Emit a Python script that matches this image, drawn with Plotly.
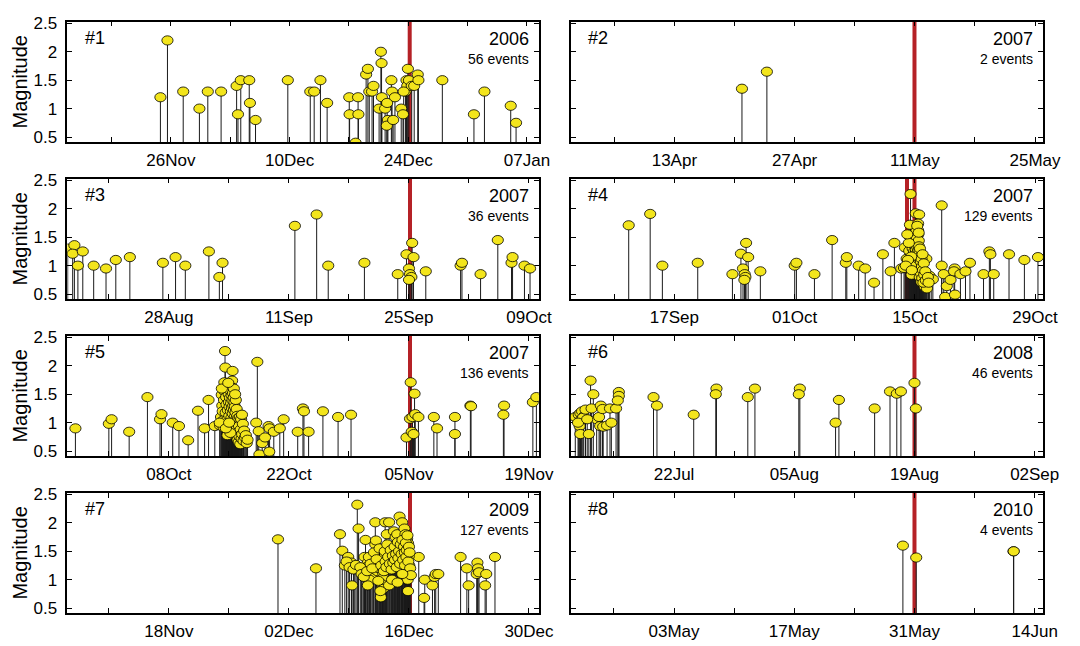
import pandas as pd
import plotly.graph_objects as go

# ---------------------------------------------------------------------------
# Earthquake sequences: event times are given in days relative to each
# sequence origin, magnitudes in the matching list.
# ---------------------------------------------------------------------------
seq_labels = ["#1", "#2", "#3", "#4", "#5", "#6", "#7", "#8"]
seq_years = ["2006", "2007", "2007", "2007", "2007", "2008", "2009", "2010"]
seq_origins = ["2006-12-24 00:00", "2007-05-11 00:00", "2007-09-25 03:00", "2007-10-15 00:00",
               "2007-11-05 03:00", "2008-08-19 00:00", "2009-12-16 03:00", "2010-05-31 00:00"]
# mainshock times (days from origin), drawn as red vertical lines
mainshock_days = [[0.17], [-0.04], [0.0], [-0.91, -0.04], [0.0], [0.0], [0.0], [0.0]]
# labelled date ticks of every panel
tick_dates = [
    ["2006-11-26", "2006-12-10", "2006-12-24", "2007-01-07"],
    ["2007-04-13", "2007-04-27", "2007-05-11", "2007-05-25"],
    ["2007-08-28", "2007-09-11", "2007-09-25", "2007-10-09"],
    ["2007-09-17", "2007-10-01", "2007-10-15", "2007-10-29"],
    ["2007-10-08", "2007-10-22", "2007-11-05", "2007-11-19"],
    ["2008-07-22", "2008-08-05", "2008-08-19", "2008-09-02"],
    ["2009-11-18", "2009-12-02", "2009-12-16", "2009-12-30"],
    ["2010-05-03", "2010-05-17", "2010-05-31", "2010-06-14"],
]

days_1 = [-29.24, -28.41, -26.55, -24.64, -23.65, -22.08, -20.25, -20.09, -19.76, -18.76,
          -18.68, -18.02, -14.21, -11.56, -11.10, -10.36, -9.57, -6.96, -6.92, -6.21,
          -5.92, -5.88, -4.97, -4.76, -4.60, -4.27, -4.10, -3.23, -3.15, -3.11,
          -3.44, -2.73, -2.49, -2.40, -2.53, -1.99, -1.91, -1.57, -1.78, -0.83,
          -0.62, -0.33, -0.21, -0.04, -0.12, 0.08, 0.41, 0.70, 1.12, 1.20,
          4.02, 7.75, 8.99, 12.09, 12.72, -0.54]
mag_1 = [1.2, 2.2, 1.3, 1.0, 1.3, 1.3, 1.4, 0.9, 1.5, 1.5,
         1.1, 0.8, 1.5, 1.3, 1.3, 1.5, 1.1, 1.2, 0.9, 0.4,
         1.2, 0.9, 1.6, 1.7, 1.3, 1.3, 1.4, 2.0, 1.8, 1.2,
         1.0, 1.0, 1.1, 0.8, 0.7, 1.5, 1.3, 1.2, 0.8, 1.0,
         0.9, 1.3, 1.5, 1.7, 1.4, 1.5, 1.4, 1.4, 1.6, 1.5,
         1.5, 0.9, 1.3, 1.05, 0.75, 1.3]

days_2 = [-20.13, -17.23]
mag_2 = [1.35, 1.65]

days_3 = [-39.93, -39.15, -39.35, -38.74, -38.17, -36.90, -35.46, -34.32, -32.68, -28.83,
          -27.35, -26.21, -23.46, -22.24, -21.87, -13.43, -10.89, -9.54, -5.32, -1.43,
          -0.41, -0.12, 0.00, 0.16, -0.12, 0.25, 0.41, 1.84, 5.90, 6.06,
          8.23, 10.24, 11.84, 11.96, 13.35, 14.00]
mag_3 = [1.30, 1.36, 1.21, 1.00, 1.25, 1.00, 0.95, 1.10, 1.15, 1.05,
         1.15, 1.00, 1.25, 0.80, 1.05, 1.70, 1.90, 1.00, 1.05, 0.85,
         1.20, 0.95, 0.85, 0.80, 0.75, 1.40, 1.15, 0.90, 1.00, 1.05,
         0.85, 1.45, 1.05, 1.15, 1.00, 0.95]

days_4 = [-33.32, -30.82, -29.40, -25.28, -21.24, -20.25, -19.65, -20.01, -19.81, -19.73,
          -19.85, -19.41, -17.99, -13.99, -13.79, -11.69, -9.63, -8.04, -7.92, -6.54,
          -5.78, -4.75, -3.72, -2.81, -2.38, -1.58,
          3.13, 3.13, 3.37, 3.53, 3.72, 4.16, 4.68, 4.64, 4.56, 5.31,
          5.90, 6.42, 8.00, 8.68, 8.80, 9.19, 10.97, 12.76, 14.34,
          -0.50, 0.11, 0.50, -0.57, 0.38, 0.38, 0.40, -0.65, 0.19, 0.00,
          -1.15, -0.19, -0.65, 0.19, -0.95, 1.34, 0.00, -0.57, 0.38, 0.76,
          -0.38, 0.57, 0.76, 1.15, 1.41, 1.91, 1.72, 2.10, -1.26,
          -0.30, -0.25, -0.22, -0.15, -0.12, -0.08, -0.05, 0.02, 0.05, 0.08,
          0.10, 0.13, 0.15, 0.17, 0.21, 0.23, 0.25, 0.27, 0.30, 0.32,
          0.34, 0.36, 0.42, 0.44, 0.46, 0.48, 0.52, 0.55, 0.58, 0.60,
          0.63, 0.66, 0.70, 0.73, 0.78, 0.82, 0.86, 0.90, 0.95, 1.00,
          1.05, 1.10, 1.22, 1.28, 1.52, 1.60, -0.42, -0.45, -0.70, -0.80,
          -0.88, -1.05, 0.28, 0.45, -0.35]
mag_4 = [1.71, 1.91, 1.00, 1.05, 0.85, 1.21, 1.40, 0.95, 0.85, 0.80,
         0.75, 1.15, 0.90, 1.00, 1.05, 0.85, 1.45, 1.05, 1.15, 1.00,
         0.95, 0.70, 1.20, 0.90, 1.40, 0.95,
         2.06, 1.00, 0.85, 0.45, 0.64, 0.75, 0.49, 0.95, 0.90, 0.85,
         0.90, 1.05, 0.85, 1.25, 1.20, 0.85, 1.20, 1.10, 1.15,
         2.26, 1.92, 1.90, 1.72, 1.74, 1.62, 1.55, 1.52, 1.50, 1.46,
         1.32, 1.36, 1.26, 1.24, 1.12, 1.12, 1.07, 0.96, 0.96, 0.89,
         0.84, 0.80, 0.71, 0.63, 0.60, 0.76, 0.82, 0.76, 0.96,
         1.45, 1.30, 1.18, 1.40, 1.05, 1.25, 1.52, 1.20, 1.34, 1.42,
         1.15, 1.28, 1.02, 1.60, 1.36, 1.10, 1.48, 1.22, 1.32, 0.98,
         1.40, 1.18, 1.26, 1.08, 1.44, 1.34, 1.14, 1.22, 1.02, 1.30,
         0.92, 1.16, 1.06, 0.86, 1.12, 0.98, 0.78, 1.20, 0.92, 0.70,
         1.04, 0.84, 0.90, 0.74, 0.80, 0.70, 1.16, 1.00, 1.40, 1.10,
         1.55, 1.00, 1.70, 1.58, 0.92]

days_5 = [-39.03, -35.13, -34.81, -32.76, -30.63, -29.16, -28.99, -27.68, -26.95, -25.88,
          -24.73, -23.96, -23.50, -22.77, -17.81, -17.94, -17.65, -17.57, -17.24, -16.91,
          -16.42, -16.50, -16.38, -15.89, -15.19, -14.74, -13.10, -12.49, -12.37, -11.83,
          -10.16, -8.39, -6.88, -0.41, 0.08, 0.00, 0.20, 0.41, 0.53, 0.29,
          0.61, 0.98, 2.78, 3.15, 5.24, 5.24, 7.04, 7.12, 10.97, 10.89,
          14.33, 14.74,
          -21.58, -21.54, -20.70, -21.66, -20.75, -20.80, -21.96, -21.90, -22.05, -22.15,
          -21.85, -21.80, -21.75, -21.70, -21.62, -21.50, -21.45, -21.40, -21.35, -21.30,
          -21.25, -21.20, -21.15, -21.12, -21.08, -21.05, -21.00, -20.97, -20.94, -20.90,
          -20.87, -20.84, -20.81, -20.78, -20.74, -20.71, -20.68, -20.65, -20.62, -20.60,
          -20.57, -20.54, -20.51, -20.48, -20.45, -20.42, -20.38, -20.35, -20.32, -20.28,
          -20.25, -20.22, -20.18, -20.15, -20.12, -20.08, -20.05, -20.02, -19.98, -19.95,
          -19.90, -19.85, -19.80, -19.75, -19.70, -19.65, -19.58, -19.50, -19.42, -19.35,
          -19.25, -19.15, -19.05, -18.95, -21.95, -22.20, -21.30, -20.95, -21.48, -20.55,
          -21.20, -20.40, -19.60, -21.10]
mag_5 = [0.90, 0.98, 1.06, 0.84, 1.45, 1.06, 1.15, 1.00, 0.94, 0.69,
         1.21, 0.90, 1.40, 0.94, 2.07, 1.00, 0.85, 0.44, 0.64, 0.74,
         0.49, 0.94, 0.90, 0.84, 0.90, 1.06, 0.84, 1.25, 1.20, 0.84,
         1.20, 1.10, 1.14, 0.74, 1.71, 1.07, 0.84, 0.80, 1.51, 1.10,
         1.15, 1.10, 1.10, 0.90, 1.10, 0.80, 1.30, 1.29, 1.30, 1.14,
         1.36, 1.45,
         2.26, 1.97, 1.91, 1.71, 1.74, 1.62, 1.49, 1.30, 1.10, 0.95,
         1.20, 1.04, 0.92, 1.40, 1.55, 1.18, 1.45, 1.32, 1.05, 1.62,
         1.22, 0.88, 1.50, 1.36, 1.12, 1.28, 1.44, 0.98, 1.56, 1.20,
         1.34, 1.08, 1.48, 1.26, 0.94, 1.40, 1.16, 1.52, 1.30, 1.02,
         1.44, 1.22, 0.86, 1.36, 1.10, 1.28, 0.96, 1.18, 1.40, 1.06,
         0.80, 1.24, 0.92, 1.12, 0.70, 1.02, 0.84, 1.08, 0.66, 0.94,
         0.76, 1.10, 0.62, 0.88, 1.06, 0.72, 0.80, 0.98, 0.68, 0.86,
         0.74, 0.78, 0.64, 0.70, 1.60, 1.00, 0.78, 0.82, 0.90, 1.60,
         1.70, 1.50, 1.14, 1.00]

days_6 = [-39.50, -39.10, -38.91, -38.71, -38.51, -38.79, -38.99, -38.91, -38.60, -38.31,
          -37.92, -37.72, -37.40, -37.60, -37.01, -36.73, -36.53, -36.33, -36.61, -36.25,
          -35.80, -35.30, -35.46, -34.75, -34.43, -34.43, -34.55, -30.39, -29.99, -25.71,
          -23.06, -23.14, -19.41, -18.58, -13.35, -13.47, -9.19, -8.80, -4.64, -2.85,
          -2.06, -1.58, 0.00, 0.16, -39.18, -38.11]
mag_6 = [1.10, 1.14, 1.17, 1.20, 1.11, 1.06, 0.94, 0.80, 1.09, 1.23,
         0.80, 1.74, 1.50, 1.25, 1.06, 1.10, 1.30, 1.24, 0.94, 0.93,
         0.95, 1.00, 1.25, 1.25, 1.54, 1.47, 1.39, 1.45, 1.30, 1.14,
         1.60, 1.50, 1.45, 1.60, 1.60, 1.50, 1.00, 1.40, 1.25, 1.55,
         1.51, 1.55, 1.70, 1.25, 1.00, 1.06]

days_7 = [-15.40, -10.97, 1.02, 1.72, 1.64, 2.62, 2.87, 3.00, 3.30, 5.90,
          6.63, 6.84, 7.86, 7.94, 7.78, 8.05, 8.89, 8.76, 9.91,
          -6.15, -8.17, -7.90, -6.00, -7.21, -6.83, -6.83, -6.45, -6.07, -5.50,
          -6.76, -5.19, -5.31, -4.92, -5.11, -4.54, -4.27, -4.73, -4.92, -4.05,
          -4.05, -3.97, -3.80, -3.61, -3.21, -3.02, -3.13, -3.21, -3.28, -3.13,
          -3.40, -2.90, -2.44, -2.71, -2.44, -2.06, -1.87, -1.68, -1.49, -1.22,
          -0.92, -0.65, -0.53, -0.34, -0.23, -1.00, -0.73, -0.15, -0.08, -0.23,
          -0.27, -0.23,
          -7.60, -7.40, -7.05, -6.60, -6.30, -5.80, -5.65, -5.40, -5.00, -4.80,
          -4.60, -4.40, -4.20, -3.90, -3.70, -3.55, -3.45, -3.35, -3.05, -2.95,
          -2.85, -2.75, -2.65, -2.55, -2.35, -2.25, -2.15, -2.00, -1.95, -1.80,
          -1.75, -1.62, -1.55, -1.42, -1.35, -1.28, -1.15, -1.08, -0.98, -0.88,
          -0.80, -0.70, -0.60, -0.58, -0.48, -0.42, -0.38, -0.30, -0.20, -0.12,
          -0.05, 0.02, 0.10, -2.10, -1.45, -0.90]
mag_7 = [1.71, 1.20, 1.40, 1.00, 0.68, 0.90, 1.05, 1.10, 1.10, 1.40,
         1.20, 0.90, 1.30, 1.20, 1.10, 1.13, 1.10, 0.90, 1.40,
         2.32, 1.80, 1.51, 1.90, 1.40, 1.30, 1.20, 1.20, 1.20, 1.20,
         0.90, 1.70, 1.40, 1.30, 1.22, 1.12, 1.09, 1.00, 0.90, 2.01,
         1.62, 1.69, 1.15, 1.20, 1.30, 1.40, 1.11, 1.02, 0.92, 0.84,
         0.69, 2.01, 2.01, 1.80, 0.90, 1.60, 1.85, 1.75, 1.80, 2.11,
         2.01, 1.90, 1.80, 1.72, 1.64, 1.52, 1.41, 1.41, 1.25, 1.11,
         1.00, 0.80,
         1.25, 1.32, 1.22, 1.18, 1.26, 1.22, 1.10, 1.05, 1.15, 1.40,
         1.28, 1.20, 1.48, 1.36, 0.98, 1.55, 0.80, 1.25, 1.15, 1.50,
         1.32, 1.22, 1.62, 1.40, 1.28, 1.52, 1.18, 1.42, 1.30, 1.58,
         1.35, 1.45, 1.22, 1.66, 1.38, 1.50, 1.28, 1.62, 1.45, 1.70,
         1.35, 1.58, 1.48, 1.25, 1.65, 1.40, 1.52, 1.78, 1.32, 1.58,
         1.48, 1.20, 1.08, 1.00, 0.95, 1.10]

days_8 = [-1.35, 0.20, 11.53, 11.56]
mag_8 = [1.60, 1.39, 1.50, 1.50]

all_days = [days_1, days_2, days_3, days_4, days_5, days_6, days_7, days_8]
all_mags = [mag_1, mag_2, mag_3, mag_4, mag_5, mag_6, mag_7, mag_8]

# ---------------------------------------------------------------------------
# Layout geometry (pixels) and styling
# ---------------------------------------------------------------------------
W, H = 1080, 646
FONT = "Liberation Sans, Arial, Helvetica, sans-serif"
STEM = "#1a1a1a"
FILL = "#F3E51C"
RED = "#B52126"
col_px = [(68.5, 548.0), (580.5, 1060.8)]
row_top_px = [15.0, 175.0, 335.0, 495.0]
row_h_px = 122.5
# time window of each panel, days from origin
windows = [(-40.22, 15.41), (-40.06, 14.94), (-39.97, 15.03), (-40.06, 14.94),
           (-39.97, 15.03), (-40.02, 14.98), (-39.97, 15.03), (-40.02, 14.98)]
y_range = [0.4135, 2.529]
y_ticks = [0.5, 1.0, 1.5, 2.0, 2.5]
y_ticktext = ["0.5", "1", "1.5", "2", "2.5"]


def fmt(ts):
    return ts.strftime("%Y-%m-%d %H:%M:%S")


fig = go.Figure()
shapes = []
annotations = []
layout_axes = {}

for k in range(8):
    r, c = divmod(k, 2)
    sfx = "" if k == 0 else str(k + 1)
    xref, yref = "x" + sfx, "y" + sfx
    origin = pd.Timestamp(seq_origins[k])
    times = [origin + pd.Timedelta(days=d) for d in all_days[k]]
    mags = all_mags[k]

    # stems from below the axis floor up to each magnitude
    sx, sy = [], []
    for t, m in zip(times, mags):
        sx += [fmt(t), fmt(t), None]
        sy += [0.0, m, None]
    fig.add_trace(go.Scatter(x=sx, y=sy, mode="lines", xaxis=xref, yaxis=yref,
                             line=dict(color=STEM, width=1), hoverinfo="skip",
                             showlegend=False))

    # elliptical heads, anchored on the data and sized in pixels
    for t, m in zip(times, mags):
        shapes.append(dict(type="circle", xref=xref, yref=yref,
                           xsizemode="pixel", ysizemode="pixel",
                           xanchor=fmt(t), yanchor=m,
                           x0=-5.6, x1=5.6, y0=-4.6, y1=4.6,
                           fillcolor=FILL, line=dict(color="black", width=0.8),
                           layer="above"))

    # mainshock lines
    for d in mainshock_days[k]:
        ms = fmt(origin + pd.Timedelta(days=d))
        shapes.append(dict(type="line", xref=xref, yref=yref + " domain",
                           x0=ms, x1=ms, y0=0, y1=1,
                           line=dict(color=RED, width=4), layer="below"))

    # date ticks: labelled every 14 days, unlabelled ones in between
    x0 = origin + pd.Timedelta(days=windows[k][0])
    x1 = origin + pd.Timedelta(days=windows[k][1])
    major = [pd.Timestamp(d) for d in tick_dates[k]]
    tvals, ttext = [], []
    for m_ in major:
        tvals.append(m_)
        ttext.append(m_.strftime("%d%b"))
    for m_ in major + [major[0] - pd.Timedelta(days=14)]:
        mid = m_ + pd.Timedelta(days=7)
        if x0 <= mid <= x1 and mid not in tvals:
            tvals.append(mid)
            ttext.append("")

    xl, xr = col_px[c]
    yt = row_top_px[r]
    yb = yt + row_h_px
    common = dict(showline=True, linecolor="black", linewidth=1.5, mirror="ticks",
                  ticks="inside", ticklen=5, tickwidth=1.2, tickcolor="black",
                  showgrid=False, zeroline=False,
                  tickfont=dict(family=FONT, size=17, color="black"))
    layout_axes["xaxis" + sfx] = dict(
        common, type="date", domain=[xl / W, xr / W], anchor=yref,
        range=[fmt(x0), fmt(x1)], tickmode="array",
        tickvals=[fmt(v) for v in tvals], ticktext=ttext, ticklabelstandoff=2)
    layout_axes["yaxis" + sfx] = dict(
        common, domain=[1 - yb / H, 1 - yt / H], anchor=xref, range=y_range,
        tickmode="array", tickvals=y_ticks, ticktext=y_ticktext,
        showticklabels=(c == 0), ticklabelstandoff=5)

    # panel texts
    annotations.append(dict(text=seq_labels[k], xref=xref + " domain", yref=yref + " domain",
                            x=0.033, y=0.865, xanchor="left", yanchor="middle",
                            showarrow=False, font=dict(family=FONT, size=18, color="black")))
    annotations.append(dict(text=seq_years[k], xref=xref + " domain", yref=yref + " domain",
                            x=0.983, y=0.857, xanchor="right", yanchor="middle",
                            showarrow=False, font=dict(family=FONT, size=18, color="black")))
    annotations.append(dict(text=f"{len(mags)} events", xref=xref + " domain",
                            yref=yref + " domain", x=0.983, y=0.694,
                            xanchor="right", yanchor="middle", showarrow=False,
                            font=dict(family=FONT, size=14, color="black")))
    if c == 0:
        annotations.append(dict(text="Magnitude", xref="paper", yref="paper",
                                x=20 / W, y=1 - (yt + row_h_px / 2) / H,
                                xanchor="center", yanchor="middle", textangle=-90,
                                showarrow=False,
                                font=dict(family=FONT, size=20, color="black")))

fig.update_layout(
    width=W, height=H, margin=dict(l=0, r=0, t=0, b=0),
    paper_bgcolor="white", plot_bgcolor="white",
    shapes=shapes, annotations=annotations, showlegend=False,
    **layout_axes,
)

fig.write_html("out.html")
